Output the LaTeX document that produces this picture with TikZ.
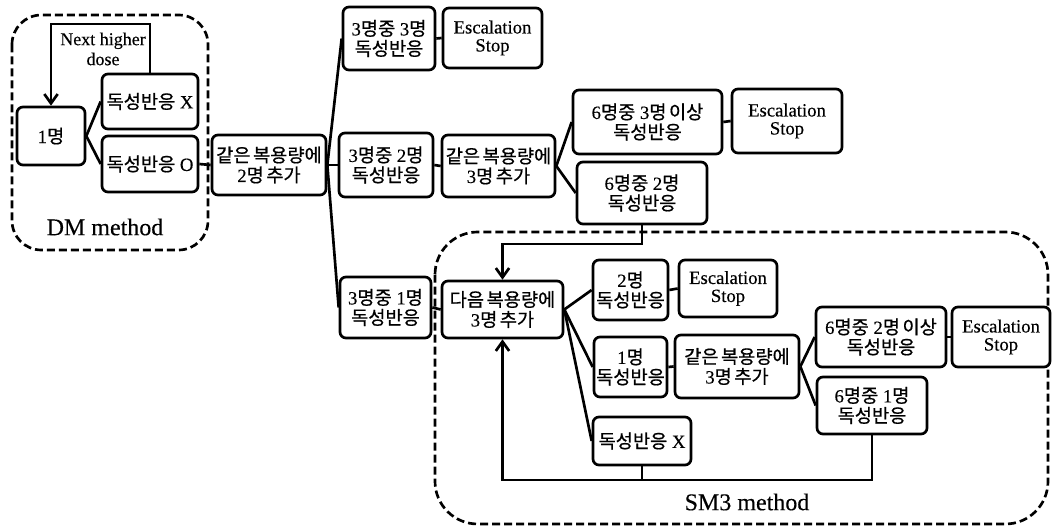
\documentclass[tikz,border=0pt]{standalone}
\usepackage{fontspec}
\setmainfont[FakeBold=0.3]{Liberation Serif}
\newfontfamily\krf[FakeBold=0.6, WordSpace=0.6]{Noto Sans CJK KR}
\newcommand\K[1]{{\krf #1}}
\usetikzlibrary{arrows.meta}
\begin{document}
\begin{tikzpicture}[x=0.75pt,y=-0.75pt,
  box/.style={draw, line width=2pt, rounded corners=4.5pt, align=center, inner sep=0pt, fill=white, font=\fontsize{14}{15}\selectfont},
  esbox/.style={box, font=\fontsize{14}{13.5}\selectfont},
  sz/.style 2 args={minimum width=#1*0.75pt, minimum height=#2*0.75pt},
  conn/.style={line width=2pt},
  arr/.style={line width=2pt, -{Straight Barb[length=7pt,width=10pt,line width=2pt]}},
  dashbox/.style={draw, line width=2pt, dash pattern=on 6pt off 3pt},
  lbl/.style={font=\fontsize{18}{20}\selectfont}
]
\useasboundingbox (0,0) rectangle (1052,530);
% dashed regions
\draw[dashbox, rounded corners=22pt] (12,15) rectangle (208,250);
\draw[dashbox, rounded corners=32pt] (435,232) rectangle (1048,524);
\node[lbl] (dml) at (105,227) {DM method};
\node[lbl] (sml) at (747,502) {SM3 method};

% DM part
\node[box, sz={68}{58}] (n1) at (51,136) {1\K{명}};
\node[box, sz={96}{55}] (dx) at (150,101.5) {\K{독성반응} X};
\node[box, sz={96}{56}] (do) at (150,164) {\K{독성반응} O};
\node[font=\fontsize{13.5}{15}\selectfont, align=center] (nhd) at (103,49) {Next higher\\dose};
\coordinate (c1) at (dx.north |- 0,24);
\coordinate (c2) at (n1.north |- 0,24);

% main tree
\node[box, sz={114}{60}] (a2) at (269,165) {\K{같은 복용량에}\\2\K{명 추가}};
\node[box, sz={92}{63}] (t33) at (389,38.5) {3\K{명중} 3\K{명}\\\K{독성반응}};
\node[esbox, sz={99}{60}] (es1) at (492.5,38) {Escalation\\Stop};
\node[box, sz={94}{64}] (t32) at (386,165) {3\K{명중} 2\K{명}\\\K{독성반응}};
\node[box, sz={113}{62}] (a3) at (498.5,166) {\K{같은 복용량에}\\3\K{명 추가}};
\node[box, sz={149}{64}] (s63) at (647.5,122) {6\K{명중} 3\K{명 이상}\\\K{독성반응}};
\node[esbox, sz={110}{64}] (es2) at (787,121) {Escalation\\Stop};
\node[box, sz={130}{62}] (s62) at (642,193) {6\K{명중} 2\K{명}\\\K{독성반응}};
\node[box, sz={91}{61}] (t31) at (385.5,307.5) {3\K{명중} 1\K{명}\\\K{독성반응}};

% SM3 part
\node[box, sz={121}{57}] (nx) at (502.5,309.5) {\K{다음 복용량에}\\3\K{명 추가}};
\node[box, sz={75}{60}] (r2) at (630.5,290) {2\K{명}\\\K{독성반응}};
\node[esbox, sz={98}{57}] (es3) at (728,288.5) {Escalation\\Stop};
\node[box, sz={73}{60}] (r1) at (630.5,367) {1\K{명}\\\K{독성반응}};
\node[box, sz={124}{63}] (a4) at (737,366.5) {\K{같은 복용량에}\\3\K{명 추가}};
\node[box, sz={98}{48}] (rx) at (642,441) {\K{독성반응} X};
\node[box, sz={130}{60}] (s62p) at (881,337) {6\K{명중} 2\K{명 이상}\\\K{독성반응}};
\node[esbox, sz={98}{60}] (es4) at (1001,337) {Escalation\\Stop};
\node[box, sz={110}{57}] (s61) at (872,405.5) {6\K{명중} 1\K{명}\\\K{독성반응}};

% connectors
\draw[arr] (dx.north) -- (c1) -- (c2) -- (n1.north);
\draw[conn] (n1.east) -- (dx.west);
\draw[conn] (n1.east) -- (do.west);
\draw[conn] (do.east) -- (a2.west);
\draw[conn] (a2.east) -- (t33.west);
\draw[conn] (a2.east) -- (t32.west);
\draw[conn] (a2.east) -- (t31.west);
\draw[conn] (t33.east) -- (es1.west);
\draw[conn] (t32.east) -- (a3.west);
\draw[conn] (a3.east) -- (s63.west);
\draw[conn] (a3.east) -- (s62.west);
\draw[conn] (s63.east) -- (es2.west);
\draw[conn] (t31.east) -- (nx.west);
\coordinate (d1) at (s62.south |- 0,244);
\coordinate (d2) at (nx.north |- 0,244);
\draw[arr] (s62.south) -- (d1) -- (d2) -- (nx.north);
\draw[conn] (nx.east) -- (r2.west);
\draw[conn] (nx.east) -- (r1.west);
\draw[conn] (nx.east) -- (rx.west);
\draw[conn] (r2.east) -- (es3.west);
\draw[conn] (r1.east) -- (a4.west);
\draw[conn] (a4.east) -- (s62p.west);
\draw[conn] (a4.east) -- (s61.west);
\draw[conn] (s62p.east) -- (es4.west);
\coordinate (f1) at (s61.south |- 0,480);
\coordinate (f2) at (nx.south |- 0,480);
\coordinate (f3) at (rx.south |- 0,480);
\draw[arr] (s61.south) -- (f1) -- (f2) -- (nx.south);
\draw[conn] (rx.south) -- (f3);
\end{tikzpicture}
\end{document}
